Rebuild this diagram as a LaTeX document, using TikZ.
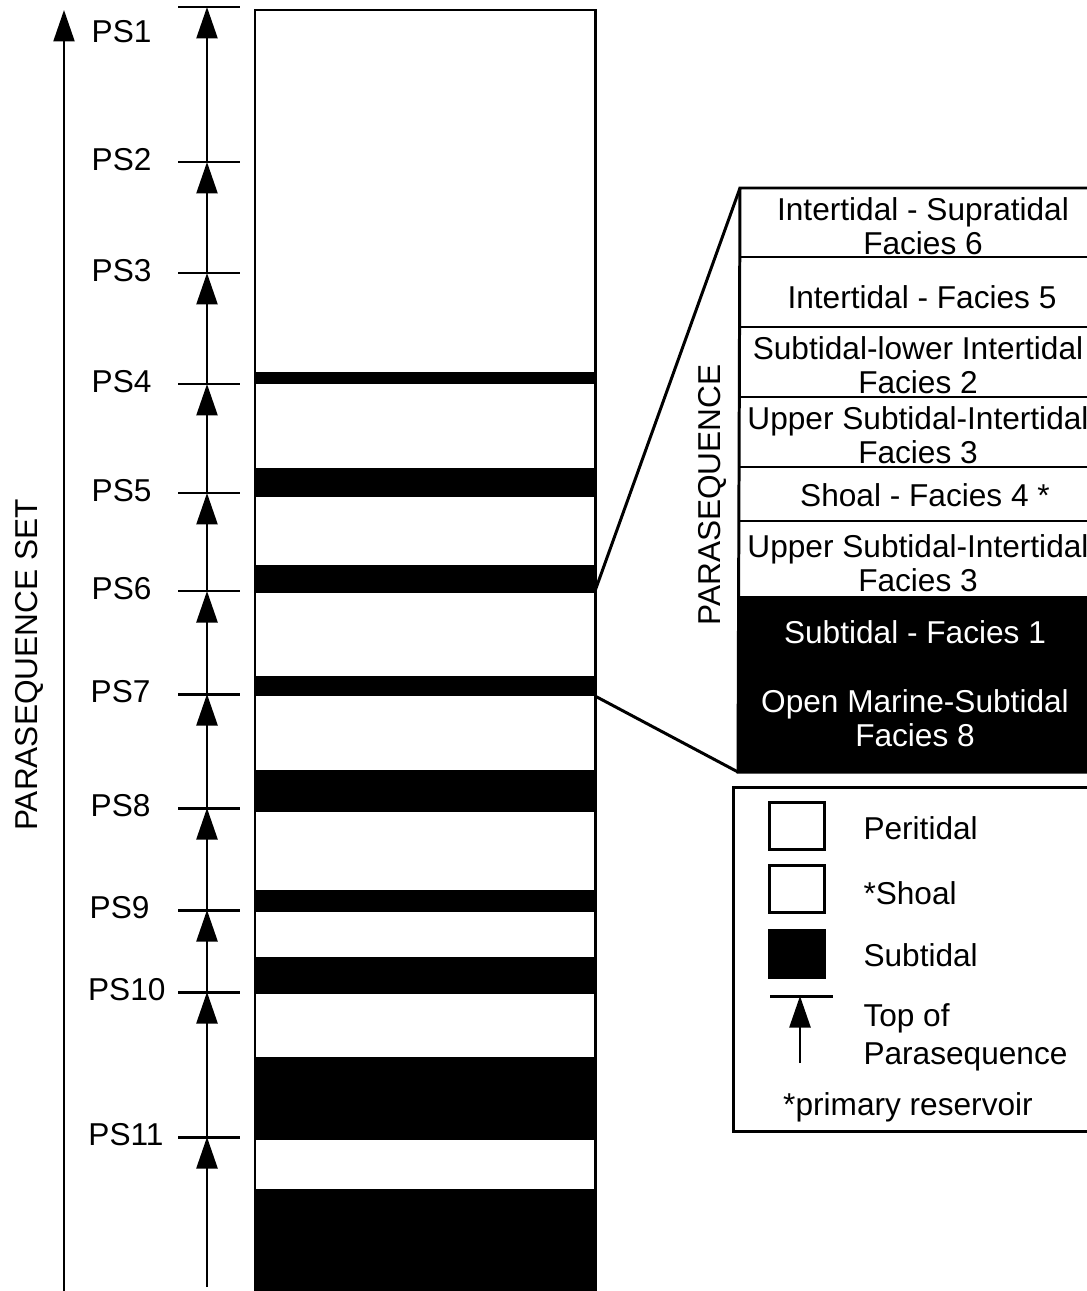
\documentclass[tikz,border=0pt]{standalone}
\usepackage{fontspec}
\setmainfont{Liberation Sans}
\usetikzlibrary{positioning, arrows.meta, calc}

\begin{document}
\begin{tikzpicture}[x=0.02cm, y=-0.02cm, >={Triangle[length=0.63cm, width=0.42cm]}, line width=1.7pt,
  font=\fontsize{18}{19.5}\selectfont,
  pslabel/.style={anchor=east, inner sep=0pt},
  rowtext/.style={align=center, inner sep=0pt},
  legtext/.style={anchor=west, inner sep=0pt, align=left},
  swatch/.style={draw, line width=1.7pt, minimum width=1.1cm, minimum height=0.94cm, inner sep=0pt}]
\clip (0,0) rectangle (1087,1291);
\fill[white] (0,0) rectangle (1087,1291);
% parasequence set axis
\coordinate (setbot) at (64,1291);
\coordinate (settop) at (64,10);
\draw[->, line width=1.3pt] (setbot) -- (settop);
\node[rotate=90, inner sep=0pt] (setlabel) at (29,665) {PARASEQUENCE SET};
% column: peritidal with subtidal bands
\foreach \a/\b in {372/384, 468/497, 565/593, 676/696, 770/812, 890/912, 957/994, 1057/1140, 1189/1300}{
  \fill (255,\a) rectangle (595,\b);
}
\draw (255,1300) -- (255,10) -- (595,10) -- (595,1300);
% tops of parasequences
\foreach \n/\y in {1/7, 2/162, 3/273, 4/384, 5/493, 6/591, 7/694, 8/808, 9/910, 10/992, 11/1137}{
  \coordinate (t\n) at (207,\y);
  \draw (178,\y) -- (240,\y);
}
\coordinate (t0) at (207,1287);
\foreach \n/\x/\y in {1/153/32, 2/153/160, 3/153/271, 4/153/382, 5/153/491, 6/153/589, 7/152/692, 8/152/806, 9/151/908, 10/167/990, 11/165/1135}{
  \node[pslabel] (ps\n) at (\x,\y) {PS\n};
}
\foreach \a/\b in {0/11, 11/10, 10/9, 9/8, 8/7, 7/6, 6/5, 5/4, 4/3, 3/2, 2/1}{
  \draw[->, line width=1.4pt] (t\a) -- (t\b);
}
% enlarged parasequence
\coordinate (dtop) at (740,188);
\coordinate (dbot) at (738,772);
\fill (738,596) rectangle (1100,772);
\foreach \y in {257, 327, 397, 467, 521}{
  \draw (740,\y) -- (1100,\y);
}
\draw (1100,188) -- (dtop) -- (dbot) -- (1100,772);
\coordinate (c6) at (595,591);
\coordinate (c7) at (595,696);
\draw (c6) -- (dtop);
\draw (c7) -- (dbot);
\node[rotate=90, inner sep=0pt] (pslab) at (712,495) {PARASEQUENCE};
\node[rowtext] (f6) at (923,226) {Intertidal - Supratidal\\Facies 6};
\node[rowtext] (f5) at (922,297) {Intertidal - Facies 5};
\node[rowtext] (f2) at (918,365) {Subtidal-lower Intertidal\\Facies 2};
\node[rowtext] (f3a) at (918,435) {Upper Subtidal-Intertidal\\Facies 3};
\node[rowtext] (f4) at (925,495) {Shoal - Facies 4 *};
\node[rowtext] (f3b) at (918,563) {Upper Subtidal-Intertidal\\Facies 3};
\node[rowtext, white] (f1) at (915,632) {Subtidal - Facies 1};
\node[rowtext, white] (f8) at (915,718) {Open Marine-Subtidal\\Facies 8};
% legend
\draw (733,787) rectangle (1100,1131);
\node[swatch] (peri) at (797,826) {};
\node[swatch] (shoal) at (797,889) {};
\node[swatch, fill=black] (subt) at (797,954) {};
\node[legtext] (peritxt) at (862,828) {Peritidal};
\node[legtext] (shoaltxt) at (862,893) {*Shoal};
\node[legtext] (subttxt) at (862,955) {Subtidal};
\coordinate (ltop) at (800,996);
\coordinate (lbot) at (800,1063);
\draw (770,996) -- (833,996);
\draw[->, line width=1.4pt] (lbot) -- (ltop);
\node[legtext, font=\fontsize{18}{21.5}\selectfont] (toptxt) at (862,1037) {Top of\\Parasequence};
\node[inner sep=0pt] (restxt) at (908,1107) {*primary reservoir};
\end{tikzpicture}
\end{document}
